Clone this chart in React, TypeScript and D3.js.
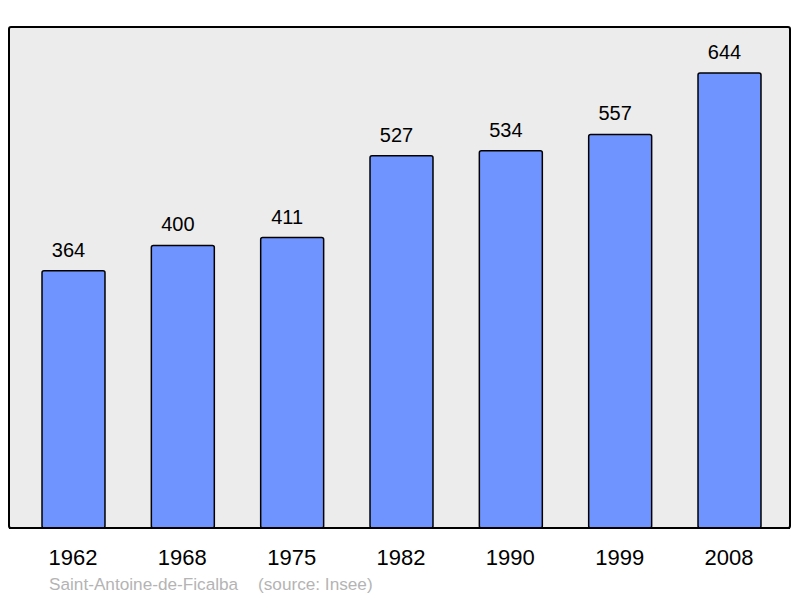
import React from "react";
import * as d3 from "d3";

const years = ["1962", "1968", "1975", "1982", "1990", "1999", "2008"];
const population = [364, 400, 411, 527, 534, 557, 644];
const townName = "Saint-Antoine-de-Ficalba";
const sourceNote = "(source: Insee)";

const W = 800;
const H = 598;
const frame = { left: 9, top: 27, right: 790, bottom: 528 };

export default function App() {
  // bands: centers run 73.5 .. 729.5, bars 63px wide
  const x = d3
    .scaleBand<string>()
    .domain(years)
    .range([18.83, 784.17])
    .paddingInner(0.424)
    .paddingOuter(0.212);

  const y = d3
    .scaleLinear()
    .domain([0, 644])
    .range([frame.bottom, 73]);

  const font = "'Liberation Sans', Arial, sans-serif";

  return (
    <svg
      width={W}
      height={H}
      style={{ position: "absolute", left: 0, top: 0, background: "#fff" }}
    >
      <rect
        x={frame.left}
        y={frame.top}
        width={frame.right - frame.left}
        height={frame.bottom - frame.top}
        rx={2}
        fill="#ececec"
        stroke="#000"
        strokeWidth={2}
      />
      {population.map((v, i) => {
        const bx = x(years[i])!;
        const top = y(v);
        const cx = bx + x.bandwidth() / 2;
        return (
          <g key={years[i]}>
            <rect
              x={bx}
              y={top}
              width={x.bandwidth()}
              height={frame.bottom - top}
              rx={2}
              fill="#7094ff"
              stroke="#000"
              strokeWidth={1.5}
            />
            {/* value labels sit a little left of the bar centre */}
            <text
              x={cx - 5}
              y={top - 14}
              textAnchor="middle"
              fontFamily={font}
              fontSize={20}
              fill="#000"
            >
              {v}
            </text>
            <text
              x={cx - 0.5}
              y={565}
              textAnchor="middle"
              fontFamily={font}
              fontSize={22}
              fill="#000"
            >
              {years[i]}
            </text>
          </g>
        );
      })}
      <line
        x1={frame.left}
        x2={frame.right}
        y1={frame.bottom}
        y2={frame.bottom}
        stroke="#000"
        strokeWidth={2}
      />
      <text x={49} y={590} fontFamily={font} fontSize={17.2} fill="#b4b4b4">
        {townName}
      </text>
      <text x={258} y={590} fontFamily={font} fontSize={17.2} fill="#b4b4b4">
        {sourceNote}
      </text>
    </svg>
  );
}
